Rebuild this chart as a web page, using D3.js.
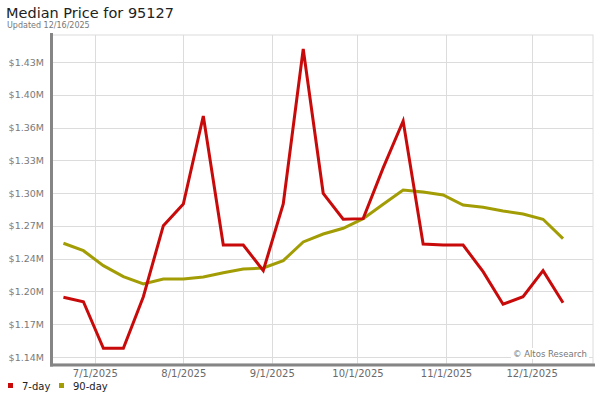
<!DOCTYPE html>
<html><head><meta charset="utf-8">
<script src="https://cdn.jsdelivr.net/npm/d3@7"></script>
<style>body{margin:0;background:#fff;} text{font-family:"DejaVu Sans",sans-serif;}</style>
</head><body>
<svg id="c" width="600" height="400"></svg>
<script>
const dates = ["2025-06-20","2025-06-27","2025-07-04","2025-07-11","2025-07-18","2025-07-25","2025-08-01","2025-08-08","2025-08-15","2025-08-22","2025-08-29","2025-09-05","2025-09-12","2025-09-19","2025-09-26","2025-10-03","2025-10-10","2025-10-17","2025-10-24","2025-10-31","2025-11-07","2025-11-14","2025-11-21","2025-11-28","2025-12-05","2025-12-12"];
const sevenDay = [1.1981,1.1938,1.1480,1.1480,1.1987,1.2685,1.2898,1.3762,1.2495,1.2495,1.2243,1.2898,1.4421,1.3003,1.2748,1.2754,1.3252,1.3713,1.2505,1.2495,1.2495,1.2233,1.1913,1.1987,1.2243,1.1928];
const ninetyDay = [1.2512,1.2439,1.2292,1.2184,1.2112,1.2161,1.2161,1.2181,1.2223,1.2259,1.2269,1.2341,1.2525,1.2603,1.2659,1.2754,1.2895,1.3035,1.3016,1.2986,1.2888,1.2865,1.2829,1.2800,1.2748,1.2557];
const yTickValues = [1.1395,1.1717,1.2039,1.2361,1.2683,1.3005,1.3327,1.3649,1.3971,1.4293];
const yTickLabels = ["$1.14M","$1.17M","$1.20M","$1.24M","$1.27M","$1.30M","$1.33M","$1.36M","$1.40M","$1.43M"];
const xTickDates = ["2025-07-01","2025-08-01","2025-09-01","2025-10-01","2025-11-01","2025-12-01"];
const xTickLabels = ["7/1/2025","8/1/2025","9/1/2025","10/1/2025","11/1/2025","12/1/2025"];
const seriesNames = ["7-day","90-day"];
const colors = ["#c80a0a","#a39d05"];

const parse = d3.utcParse("%Y-%m-%d");
const svg = d3.select("#c");
const L = 52, R = 593, T = 35, B = 364;
const x = d3.scaleUtc().domain([parse("2025-06-16"), new Date(Date.UTC(2025,11,22,12))]).range([L, R]);
const y = d3.scaleLinear().domain([1.1326, 1.4558]).range([B, T]);

// frame
svg.append("rect").attr("x",L).attr("y",T).attr("width",R-L).attr("height",B-T)
  .attr("fill","none").attr("stroke","#dcdcdc").attr("stroke-width",1);

// horizontal grid
const gy = svg.append("g").attr("transform",`translate(${L},0)`)
  .call(d3.axisLeft(y).tickValues(yTickValues).tickSize(-(R-L)).tickFormat((d,i)=>yTickLabels[i]).tickPadding(8));
gy.select(".domain").remove();
gy.selectAll(".tick line").attr("stroke","#dcdcdc").attr("shape-rendering","crispEdges");
gy.selectAll(".tick text").attr("fill","#7a7a7a").attr("font-size","9.5px").attr("font-family","DejaVu Sans");

// vertical grid + x labels
const gx = svg.append("g").attr("transform",`translate(0,${B})`)
  .call(d3.axisBottom(x).tickValues(xTickDates.map(parse)).tickSize(-(B-T)).tickFormat((d,i)=>xTickLabels[i]).tickPadding(6));
gx.select(".domain").remove();
gx.selectAll(".tick line").attr("stroke","#dcdcdc").attr("shape-rendering","crispEdges");
gx.selectAll(".tick text").attr("fill","#6a6a6a").attr("font-size","10px").attr("font-family","DejaVu Sans");

// watermark (with white backing)
const wm = svg.append("g");
wm.append("rect").attr("x",511).attr("y",348).attr("width",78).attr("height",11).attr("fill","#fff");
wm.append("text").attr("x",587).attr("y",357).attr("text-anchor","end")
  .attr("font-size","8.5px").attr("fill","#777").text("© Altos Research");

// axes bars
svg.append("line").attr("x1",L-0.5).attr("x2",L-0.5).attr("y1",T-2).attr("y2",B+2.5).attr("stroke","#858585").attr("stroke-width",3);
svg.append("line").attr("x1",L-2).attr("x2",R+2).attr("y1",B+1).attr("y2",B+1).attr("stroke","#858585").attr("stroke-width",3);

// lines
const line = d3.line().x((d,i)=>x(parse(dates[i]))).y(d=>y(d));
[ninetyDay, sevenDay].forEach((s,k)=>{
  const c = k===0 ? colors[1] : colors[0];
  svg.append("path").datum(s).attr("d",line).attr("fill","none")
    .attr("stroke",c).attr("stroke-width",3).attr("stroke-linejoin","miter");
});

// title
svg.append("text").attr("x",6).attr("y",18).attr("font-size","14.5px").attr("fill","#222").text("Median Price for 95127");
svg.append("text").attr("x",7).attr("y",28).attr("font-size","8px").attr("fill","#777").text("Updated 12/16/2025");

// legend
const lg = svg.append("g");
const lx = [8, 59];
seriesNames.forEach((n,i)=>{
  lg.append("rect").attr("x",lx[i]).attr("y",383).attr("width",5).attr("height",5).attr("fill",colors[i]);
  lg.append("text").attr("x",lx[i]+14).attr("y",390).attr("font-size","10px").attr("fill","#222").text(n);
});
</script>
</body></html>
